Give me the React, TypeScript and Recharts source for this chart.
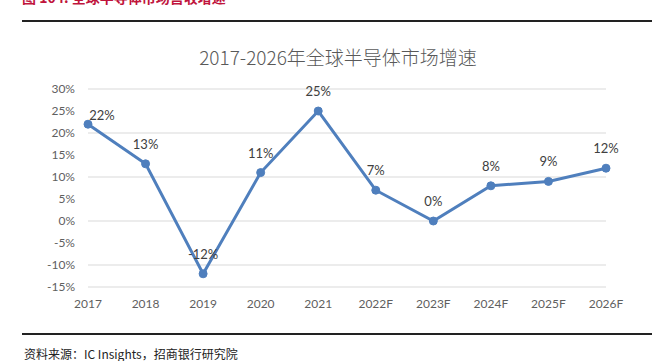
import * as React from "react";
import { LineChart, Line, XAxis, YAxis, CartesianGrid, LabelList } from "recharts";

const YEARS = ["2017", "2018", "2019", "2020", "2021", "2022F", "2023F", "2024F", "2025F", "2026F"];
const GROWTH = [22, 13, -12, 11, 25, 7, 0, 8, 9, 12];
const Y_TICKS = [-15, -10, -5, 0, 5, 10, 15, 20, 25, 30];

const LINE_BLUE = "#4f7fbd";
const AXIS_GRAY = "#5f5f5f";
const CHART_FONT = "Lato, 'Noto Sans', sans-serif";
const CJK_FONT = "'Noto Sans CJK SC', sans-serif";

const data = YEARS.map((year, i) => ({ year, growth: GROWTH[i] }));

// Excel pushes the first label right so it stays inside the chart area
function PointLabel(props: any): React.ReactElement {
  const { x, y, value, index } = props;
  const dx = index === 0 ? 14 : 0;
  const dy = index === 0 ? -9 : -20;
  return (
    <text
      x={x + dx}
      y={y + dy}
      textAnchor="middle"
      dominantBaseline="central"
      fill="#404040"
      fontSize={13}
      fontFamily={CHART_FONT}
    >
      {`${value}%`}
    </text>
  );
}

export default function App(): React.ReactElement {
  return (
    <div
      style={{
        position: "absolute",
        left: 0,
        top: 0,
        width: 652,
        height: 361,
        background: "#fff",
        overflow: "hidden",
      }}
    >
      <div
        style={{
          position: "absolute",
          left: 22,
          top: -13,
          fontFamily: CJK_FONT,
          fontSize: 14,
          fontWeight: 700,
          color: "#c0143c",
          whiteSpace: "nowrap",
        }}
      >
        图 104: 全球半导体市场营收增速
      </div>
      <div style={{ position: "absolute", left: 22, right: 0, top: 20, height: 1.5, background: "#222" }} />

      <div
        style={{
          position: "absolute",
          left: 0,
          width: 676,
          top: 43,
          textAlign: "center",
          fontFamily: CJK_FONT,
          fontSize: 19,
          fontWeight: 300,
          color: "#595959",
          whiteSpace: "nowrap",
        }}
      >
        2017-2026年全球半导体市场增速
      </div>

      <div style={{ position: "absolute", left: 0, top: 0 }}>
        <LineChart width={652} height={361} data={data} margin={{ top: 89, right: 46, bottom: 49, left: 0 }}>
          <CartesianGrid vertical={false} stroke="#d9d9d9" strokeWidth={1} />
          <XAxis
            dataKey="year"
            axisLine={false}
            tickLine={false}
            tickSize={0}
            tickMargin={12}
            height={25}
            interval={0}
            tick={{ fill: AXIS_GRAY, fontSize: 12, fontFamily: CHART_FONT }}
          />
          <YAxis
            type="number"
            domain={[-15, 30]}
            ticks={Y_TICKS}
            width={88}
            axisLine={false}
            tickLine={false}
            tickSize={0}
            tickMargin={13}
            tickFormatter={(v) => `${v}%`}
            tick={{ fill: AXIS_GRAY, fontSize: 12, fontFamily: CHART_FONT }}
          />
          <Line
            type="linear"
            dataKey="growth"
            stroke={LINE_BLUE}
            strokeWidth={3}
            dot={{ r: 4, fill: LINE_BLUE, stroke: LINE_BLUE, strokeWidth: 1 }}
            isAnimationActive={false}
          >
            <LabelList dataKey="growth" content={<PointLabel />} />
          </Line>
        </LineChart>
      </div>

      <div style={{ position: "absolute", left: 22, right: 0, top: 333, height: 1.5, background: "#222" }} />
      <div
        style={{
          position: "absolute",
          left: 24,
          top: 345,
          fontFamily: CJK_FONT,
          fontSize: 12,
          color: "#222",
          whiteSpace: "nowrap",
        }}
      >
        资料来源：IC Insights，招商银行研究院
      </div>
    </div>
  );
}
